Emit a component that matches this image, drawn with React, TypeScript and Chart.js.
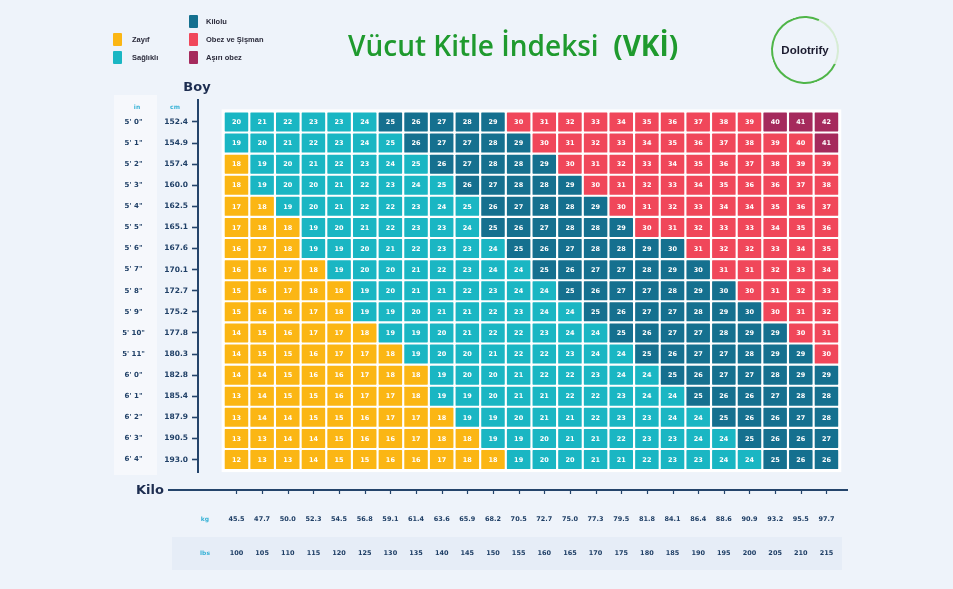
import React, { useEffect, useRef } from 'react';
import { Chart, registerables } from 'chart.js';
Chart.register(...registerables);

// ---------- DATA ----------
const kgLabels = ['45.5','47.7','50.0','52.3','54.5','56.8','59.1','61.4','63.6','65.9','68.2','70.5','72.7','75.0','77.3','79.5','81.8','84.1','86.4','88.6','90.9','93.2','95.5','97.7'];
const lbsLabels = ['100','105','110','115','120','125','130','135','140','145','150','155','160','165','170','175','180','185','190','195','200','205','210','215'];
const inchLabels = [`5' 0"`,`5' 1"`,`5' 2"`,`5' 3"`,`5' 4"`,`5' 5"`,`5' 6"`,`5' 7"`,`5' 8"`,`5' 9"`,`5' 10"`,`5' 11"`,`6' 0"`,`6' 1"`,`6' 2"`,`6' 3"`,`6' 4"`];
const cmLabels = ['152.4','154.9','157.4','160.0','162.5','165.1','167.6','170.1','172.7','175.2','177.8','180.3','182.8','185.4','187.9','190.5','193.0'];
const categoryNames = ['Zayıf', 'Sağlıklı', 'Kilolu', 'Obez ve Şişman', 'Aşırı obez'];
const categoryCodes = ['Y', 'S', 'K', 'O', 'A'];
const categoryRows = [
  'SSSSSSKKKKKOOOOOOOOOOAAA',
  'SSSSSSSKKKKKOOOOOOOOOOOA',
  'YSSSSSSSKKKKKOOOOOOOOOOO',
  'YSSSSSSSSKKKKKOOOOOOOOOO',
  'YYSSSSSSSSKKKKKOOOOOOOOO',
  'YYYSSSSSSSKKKKKKOOOOOOOO',
  'YYYSSSSSSSSKKKKKKKOOOOOO',
  'YYYYSSSSSSSSKKKKKKKOOOOO',
  'YYYYYSSSSSSSSKKKKKKKOOOO',
  'YYYYYSSSSSSSSSKKKKKKKOOO',
  'YYYYYYSSSSSSSSSKKKKKKKOO',
  'YYYYYYYSSSSSSSSSKKKKKKKO',
  'YYYYYYYYSSSSSSSSSKKKKKKK',
  'YYYYYYYYSSSSSSSSSSKKKKKK',
  'YYYYYYYYYSSSSSSSSSSKKKKK',
  'YYYYYYYYYYSSSSSSSSSSKKKK',
  'YYYYYYYYYYYSSSSSSSSSSKKK',
];
const bmiRows = [
  [20,21,22,23,23,24,25,26,27,28,29,30,31,32,33,34,35,36,37,38,39,40,41,42],
  [19,20,21,22,23,24,25,26,27,27,28,29,30,31,32,33,34,35,36,37,38,39,40,41],
  [18,19,20,21,22,23,24,25,26,27,28,28,29,30,31,32,33,34,35,36,37,38,39,39],
  [18,19,20,20,21,22,23,24,25,26,27,28,28,29,30,31,32,33,34,35,36,36,37,38],
  [17,18,19,20,21,22,22,23,24,25,26,27,28,28,29,30,31,32,33,34,34,35,36,37],
  [17,18,18,19,20,21,22,23,23,24,25,26,27,28,28,29,30,31,32,33,33,34,35,36],
  [16,17,18,19,19,20,21,22,23,23,24,25,26,27,28,28,29,30,31,32,32,33,34,35],
  [16,16,17,18,19,20,20,21,22,23,24,24,25,26,27,27,28,29,30,31,31,32,33,34],
  [15,16,17,18,18,19,20,21,21,22,23,24,24,25,26,27,27,28,29,30,30,31,32,33],
  [15,16,16,17,18,19,19,20,21,21,22,23,24,24,25,26,27,27,28,29,30,30,31,32],
  [14,15,16,17,17,18,19,19,20,21,22,22,23,24,24,25,26,27,27,28,29,29,30,31],
  [14,15,15,16,17,17,18,19,20,20,21,22,22,23,24,24,25,26,27,27,28,29,29,30],
  [14,14,15,16,16,17,18,18,19,20,20,21,22,22,23,24,24,25,26,27,27,28,29,29],
  [13,14,15,15,16,17,17,18,19,19,20,21,21,22,22,23,24,24,25,26,26,27,28,28],
  [13,14,14,15,15,16,17,17,18,19,19,20,21,21,22,23,23,24,24,25,26,26,27,28],
  [13,13,14,14,15,16,16,17,18,18,19,19,20,21,21,22,23,23,24,24,25,26,26,27],
  [12,13,13,14,15,15,16,16,17,18,18,19,20,20,21,21,22,23,23,24,24,25,26,26],
];

// ---------- STYLE ----------
const catColors = ['#fbb614', '#1ab6c3', '#15708f', '#f0475a', '#a52a5c'];
const NAVY = '#24446b';
const LABEL = '#1f3f66';
const CYAN = '#38b2d6';
const FONT = '"DejaVu Sans", sans-serif';

const datasets = categoryCodes.map((code, ci) => {
  const data: any[] = [];
  categoryRows.forEach((row, r) => {
    row.split('').forEach((c, col) => {
      if (c === code) data.push({ x: col, y: [r, r + 1], v: bmiRows[r][col] });
    });
  });
  return {
    label: categoryNames[ci],
    data,
    backgroundColor: catColors[ci],
    borderColor: '#ffffff',
    borderWidth: 1.4,
    borderSkipped: false,
    borderRadius: 2,
    grouped: false,
    barPercentage: 1,
    categoryPercentage: 1,
  };
});

const rowTicks = (s: any) => { s.ticks = cmLabels.map((_, i) => ({ value: i + 0.5 })); };

const decorPlugin = {
  id: 'decor',
  beforeDraw(chart: any) {
    const { ctx } = chart;
    ctx.save();
    ctx.fillStyle = 'rgba(255,255,255,0.45)';
    ctx.fillRect(114, 95, 43, 380);
    ctx.fillStyle = '#e6edf7';
    ctx.fillRect(172, 537, 670, 33);
    ctx.restore();
  },
  beforeDatasetsDraw(chart: any) {
    const { ctx, scales } = chart;
    const x = scales.x, y = scales.y;
    const l = x.getPixelForValue(-0.5) - 2, r = x.getPixelForValue(kgLabels.length - 0.5) + 2;
    const t = y.getPixelForValue(0) - 2, b = y.getPixelForValue(cmLabels.length) + 2;
    ctx.save();
    ctx.fillStyle = '#ffffff';
    ctx.fillRect(l, t, r - l, b - t);
    ctx.restore();
  },
  afterDatasetsDraw(chart: any) {
    const { ctx } = chart;
    ctx.save();
    ctx.fillStyle = '#ffffff';
    ctx.font = `bold 6.5px ${FONT}`;
    ctx.textAlign = 'center';
    ctx.textBaseline = 'middle';
    chart.data.datasets.forEach((ds: any, i: number) => {
      const meta = chart.getDatasetMeta(i);
      meta.data.forEach((el: any, k: number) => {
        ctx.fillText(String(ds.data[k].v), el.x, (el.y + el.base) / 2 + 0.5);
      });
    });
    ctx.restore();
  },
  afterDraw(chart: any) {
    const { ctx, scales } = chart;
    const x = scales.x;
    ctx.save();
    ctx.strokeStyle = NAVY;
    ctx.lineWidth = 2;
    ctx.beginPath();
    ctx.moveTo(168, 490);
    ctx.lineTo(848, 490);
    ctx.stroke();
    ctx.lineWidth = 1.2;
    kgLabels.forEach((_, i) => {
      const px = Math.round(x.getPixelForValue(i)) + 0.5;
      ctx.beginPath();
      ctx.moveTo(px, 490);
      ctx.lineTo(px, 494);
      ctx.stroke();
    });
    ctx.fillStyle = '#1d2d50';
    ctx.font = `bold 13px ${FONT}`;
    ctx.textAlign = 'center';
    ctx.textBaseline = 'middle';
    ctx.fillText('Boy', 197, 88);
    ctx.fillText('Kilo', 150, 491);
    ctx.fillStyle = CYAN;
    ctx.font = `bold 6px ${FONT}`;
    ctx.fillText('in', 137, 107);
    ctx.fillText('cm', 175, 107);
    ctx.fillText('kg', 205, 519);
    ctx.fillText('lbs', 205, 553);
    ctx.restore();
  },
};

export default function App() {
  const ref = useRef<HTMLCanvasElement>(null);
  useEffect(() => {
    const chart = new Chart(ref.current as HTMLCanvasElement, {
      type: 'bar',
      data: { datasets: datasets as any },
      options: {
        animation: false,
        responsive: false,
        devicePixelRatio: 1,
        layout: { padding: { left: 100, top: 100, right: 105, bottom: 19 } },
        plugins: { legend: { display: false }, tooltip: { enabled: false } },
        scales: {
          x: {
            type: 'linear',
            min: -1.5,
            max: 23.84,
            offset: false,
            grid: { display: false, drawTicks: false },
            border: { display: false },
            afterBuildTicks: (s: any) => { s.ticks = kgLabels.map((_, i) => ({ value: i })); },
            afterFit: (s: any) => { s.height = 98; },
            ticks: {
              autoSkip: false,
              maxRotation: 0,
              padding: 30,
              color: LABEL,
              font: { family: FONT, size: 6.5, weight: 'bold', lineHeight: '34px' } as any,
              callback: (_v: any, i: number) => [kgLabels[i], lbsLabels[i]],
            },
          },
          y: {
            type: 'linear',
            min: -0.54,
            max: 17.09,
            reverse: true,
            position: 'left',
            weight: 0,
            afterBuildTicks: rowTicks,
            afterFit: (s: any) => { s.width = 40; },
            grid: { display: true, drawOnChartArea: false, drawTicks: true, tickLength: 6, tickColor: NAVY, tickWidth: 1.6 },
            border: { display: true, color: NAVY, width: 2 },
            ticks: {
              autoSkip: false,
              padding: 4,
              color: LABEL,
              font: { family: FONT, size: 7.5, weight: 'bold' },
              callback: (_v: any, i: number) => cmLabels[i],
            },
          },
          yIn: {
            type: 'linear',
            min: -0.54,
            max: 17.09,
            reverse: true,
            position: 'left',
            weight: 1,
            afterBuildTicks: rowTicks,
            afterFit: (s: any) => { s.width = 58; },
            grid: { display: false, drawTicks: false },
            border: { display: false },
            ticks: {
              autoSkip: false,
              padding: 13,
              crossAlign: 'center',
              color: LABEL,
              font: { family: FONT, size: 7, weight: 'bold' },
              callback: (_v: any, i: number) => inchLabels[i],
            },
          },
        },
      } as any,
      plugins: [decorPlugin],
    });
    return () => chart.destroy();
  }, []);

  const legendText: React.CSSProperties = {
    position: 'absolute', fontFamily: '"Liberation Sans", Arial, sans-serif', fontSize: 7.5,
    fontWeight: 600, color: '#2b2b3b', whiteSpace: 'nowrap', lineHeight: '10px',
  };
  const sw = (left: number, top: number, color: string): React.CSSProperties => ({
    position: 'absolute', left, top, width: 9, height: 13, background: color, borderRadius: 1,
  });

  return (
    <div style={{ position: 'absolute', left: 0, top: 0, width: 953, height: 589, background: '#eef3fa', overflow: 'hidden' }}>
      <canvas ref={ref} width={953} height={589} style={{ position: 'absolute', left: 0, top: 0 }} />
      <div style={sw(113, 33, catColors[0])} />
      <div style={{ ...legendText, left: 132, top: 35 }}>{categoryNames[0]}</div>
      <div style={sw(113, 51, catColors[1])} />
      <div style={{ ...legendText, left: 132, top: 53 }}>{categoryNames[1]}</div>
      <div style={sw(189, 15, catColors[2])} />
      <div style={{ ...legendText, left: 206, top: 17 }}>{categoryNames[2]}</div>
      <div style={sw(189, 33, catColors[3])} />
      <div style={{ ...legendText, left: 206, top: 35 }}>{categoryNames[3]}</div>
      <div style={sw(189, 51, catColors[4])} />
      <div style={{ ...legendText, left: 206, top: 53 }}>{categoryNames[4]}</div>
      <div style={{ position: 'absolute', left: 348, top: 27, whiteSpace: 'nowrap', fontFamily: '"Open Sans", sans-serif', fontSize: 28, fontWeight: 600, color: '#1f9a2e', lineHeight: '36px' }}>
        Vücut Kitle İndeksi&nbsp;&nbsp;<span style={{ fontWeight: 700 }}>(VKİ)</span>
      </div>
      <div style={{ position: 'absolute', left: 771, top: 16, width: 64, height: 64, borderRadius: '50%', border: '2.5px solid #4fb548', borderRightColor: '#d6ecd4', transform: 'rotate(-20deg)' }} />
      <div style={{ position: 'absolute', left: 770, top: 15, width: 70, height: 70, display: 'flex', alignItems: 'center', justifyContent: 'center', fontFamily: '"Liberation Sans", Arial, sans-serif', fontWeight: 700, fontSize: 11.5, color: '#1b1b2f' }}>
        Dolotrify
      </div>
    </div>
  );
}
